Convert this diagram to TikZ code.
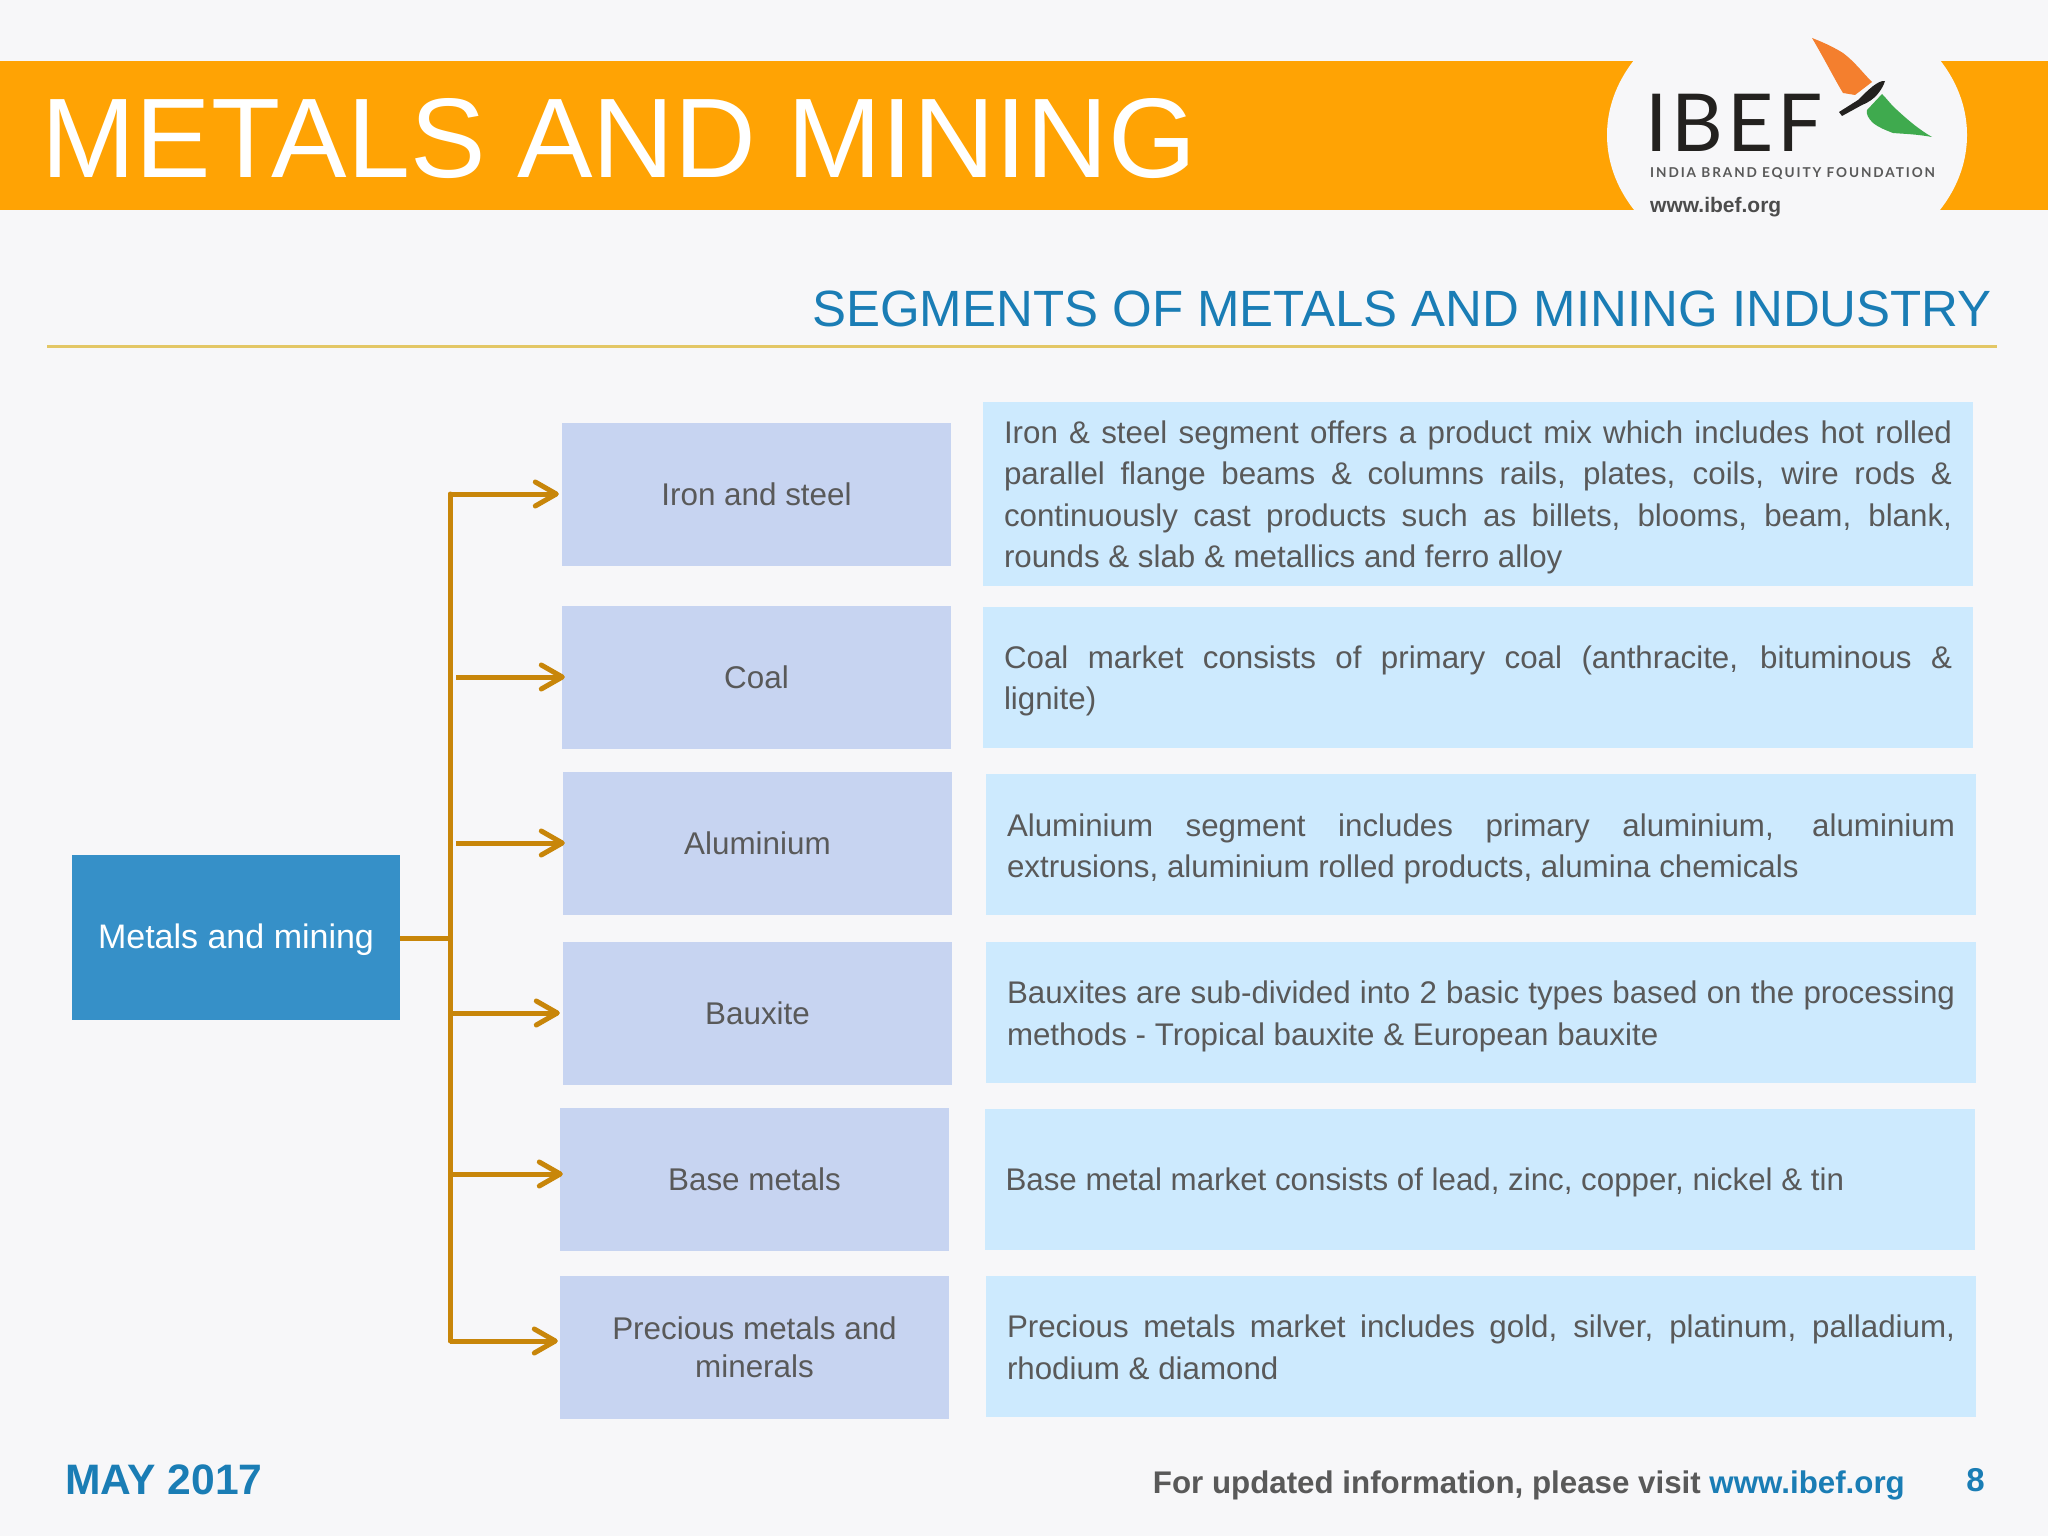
\documentclass[tikz,border=0pt]{standalone}
\usepackage{fontspec}
\setmainfont{Liberation Sans}
\newfontfamily\logofont[LetterSpace=5]{Lato}
\newfontfamily\logosmall[LetterSpace=14]{Lato Bold}
\usetikzlibrary{arrows.meta,shapes.geometric}
\definecolor{bgc}{HTML}{F7F7F9}
\definecolor{band}{HTML}{FFA304}
\definecolor{seg}{HTML}{C7D4F1}
\definecolor{desc}{HTML}{CDEAFE}
\definecolor{root}{HTML}{3690C8}
\definecolor{bluet}{HTML}{1A7DB5}
\definecolor{greyt}{HTML}{595959}
\definecolor{arr}{HTML}{C8860A}
\definecolor{rulec}{HTML}{E3C766}
\definecolor{wingo}{HTML}{F47F2E}
\definecolor{wingg}{HTML}{3FAA4E}
\definecolor{birdk}{HTML}{23211F}
\newcommand{\dtxt}[2]{\raisebox{-#1pt}[\height][\depth]{\parbox[c]{948pt}{#2}}}
\tikzset{
 x=1pt,y=-1pt,
 segbox/.style={fill=seg,minimum width=389pt,minimum height=143pt,inner sep=0pt,align=center,text=greyt,font=\fontsize{31.4}{38}\selectfont},
 descbox/.style={fill=desc,minimum width=990pt,minimum height=141pt,inner sep=0pt,text=greyt,font=\fontsize{31.3}{41.5}\selectfont},
 conn/.style={draw=arr,line width=5pt},
 arrowc/.style={conn,-{Straight Barb[length=21pt,width=24pt,line width=5pt,round]}},
}
\begin{document}
\begin{tikzpicture}
\useasboundingbox (0,0) rectangle (2048,1536);
\fill[bgc] (0,0) rectangle (2048,1536);
\fill[band] (0,61) rectangle (2048,210);
\fill[bgc] (1787,135) ellipse [x radius=180, y radius=142];
\node[anchor=base west,inner sep=0pt,text=white,font=\fontsize{113.2}{114}\selectfont] (title) at (41,177) {METALS AND MINING};
% logo
\node[anchor=base west,inner sep=0pt,text=birdk,font=\logofont\fontsize{80}{80}\selectfont] (ibef) at (1645,151) {IBEF};
\node[anchor=base west,inner sep=0pt,text=black!65,font=\logosmall\fontsize{13.6}{15}\selectfont] (ibeff) at (1650,178) {INDIA BRAND EQUITY FOUNDATION};
\node[anchor=base west,inner sep=0pt,text=black!70,font=\fontsize{21}{22}\bfseries\selectfont] (ibefw) at (1650,212) {www.ibef.org};
\fill[wingo] (1812,38) .. controls (1825,43) and (1835,48) .. (1843,53) .. controls (1855,62) and (1862,72) .. (1872,82) -- (1855,95) -- (1843,93) .. controls (1835,80) and (1825,60) .. cycle;
\fill[wingg] (1882,94) .. controls (1888,100) and (1892,106) .. (1897,110) .. controls (1910,122) and (1920,130) .. (1932,137) .. controls (1915,134) and (1905,134) .. (1893,133) .. controls (1885,130) and (1878,127) .. (1873,123) .. controls (1868,118) and (1866,114) .. (1867,110) -- cycle;
\fill[birdk] (1885,81) .. controls (1878,80) and (1868,90) .. (1858,100) -- (1839,112) -- (1842,116) -- (1862,105) .. controls (1875,100) and (1882,90) .. cycle;
% heading
\node[anchor=base east,inner sep=0pt,text=bluet,font=\fontsize{51}{52}\selectfont] (sub) at (1992,326) {SEGMENTS OF METALS AND MINING INDUSTRY};
\coordinate (ruleA) at (47,346); \coordinate (ruleB) at (1997,346);
\draw[rulec,line width=3pt] (ruleA) -- (ruleB);
% root
\node[fill=root,minimum width=328pt,minimum height=165pt,inner sep=0pt,text=white,font=\fontsize{34}{38}\selectfont] (root) at (236,937.5) {\raisebox{-2.6pt}[\height][\depth]{Metals and mining}};
% segments
\node[segbox] (iron) at (756.5,494) {Iron and steel};
\node[segbox] (coal) at (756.5,677) {Coal};
\node[segbox] (alum) at (757.5,843) {Aluminium};
\node[segbox] (baux) at (757.5,1013.5) {Bauxite};
\node[segbox] (base) at (754.5,1179.5) {Base metals};
\node[segbox] (prec) at (754.5,1347) {Precious metals and\\minerals};
% descriptions
\node[descbox,minimum height=184pt] (d1) at (1478,494) {\dtxt{3.3}{Iron \& steel segment offers a product mix which includes hot rolled\linebreak parallel flange beams \& columns rails, plates, coils, wire rods \&\linebreak continuously cast products such as billets, blooms, beam, blank,\linebreak rounds \& slab \& metallics and ferro alloy}};
\node[descbox] (d2) at (1478,677.5) {\dtxt{3.3}{Coal market consists of primary coal (anthracite, bituminous \&\linebreak lignite)}};
\node[descbox] (d3) at (1481,844.5) {\dtxt{4.5}{Aluminium segment includes primary aluminium, aluminium\linebreak extrusions, aluminium rolled products, alumina chemicals}};
\node[descbox] (d4) at (1481,1012.5) {\dtxt{3.9}{Bauxites are sub-divided into 2 basic types based on the processing\linebreak methods - Tropical bauxite \& European bauxite}};
\node[descbox] (d5) at (1479.5,1179.5) {\dtxt{3.3}{Base metal market consists of lead, zinc, copper, nickel \& tin}};
\node[descbox] (d6) at (1481,1346.5) {\dtxt{0.7}{Precious metals market includes gold, silver, platinum, palladium,\linebreak rhodium \& diamond}};
% connectors
\coordinate (top) at (450,494);
\coordinate (bot) at (450,1341);
\coordinate (jn) at (450,938);
\coordinate (s2) at (456,677);
\coordinate (s3) at (456,843);
\coordinate (s4) at (450,1013);
\coordinate (s5) at (453,1174);
\draw[conn,line cap=round] (top) -- (bot);
\draw[conn] (root.east |- jn) -- (jn);
\draw[arrowc,shorten >=3pt] (top) -- (iron.west |- top);
\draw[arrowc,shorten >=-3pt] (s2) -- (coal.west |- s2);
\draw[arrowc,shorten >=-2pt] (s3) -- (alum.west |- s3);
\draw[arrowc,shorten >=3pt] (s4) -- (baux.west |- s4);
\draw[arrowc,shorten >=-3pt] (s5) -- (base.west |- s5);
\draw[arrowc,shorten >=2pt] (bot) -- (prec.west |- bot);
% footer
\node[anchor=base west,inner sep=0pt,text=bluet,font=\fontsize{42.6}{44}\bfseries\selectfont] (may) at (65,1494) {MAY 2017};
\node[anchor=base east,inner sep=0pt,text=greyt,font=\fontsize{31.3}{33}\bfseries\selectfont] (upd) at (1905,1493) {For updated information, please visit \textcolor{bluet}{www.ibef.org}};
\node[anchor=base east,inner sep=0pt,text=bluet,font=\fontsize{33}{33}\bfseries\selectfont] (pg) at (1985,1491) {8};
\end{tikzpicture}
\end{document}
